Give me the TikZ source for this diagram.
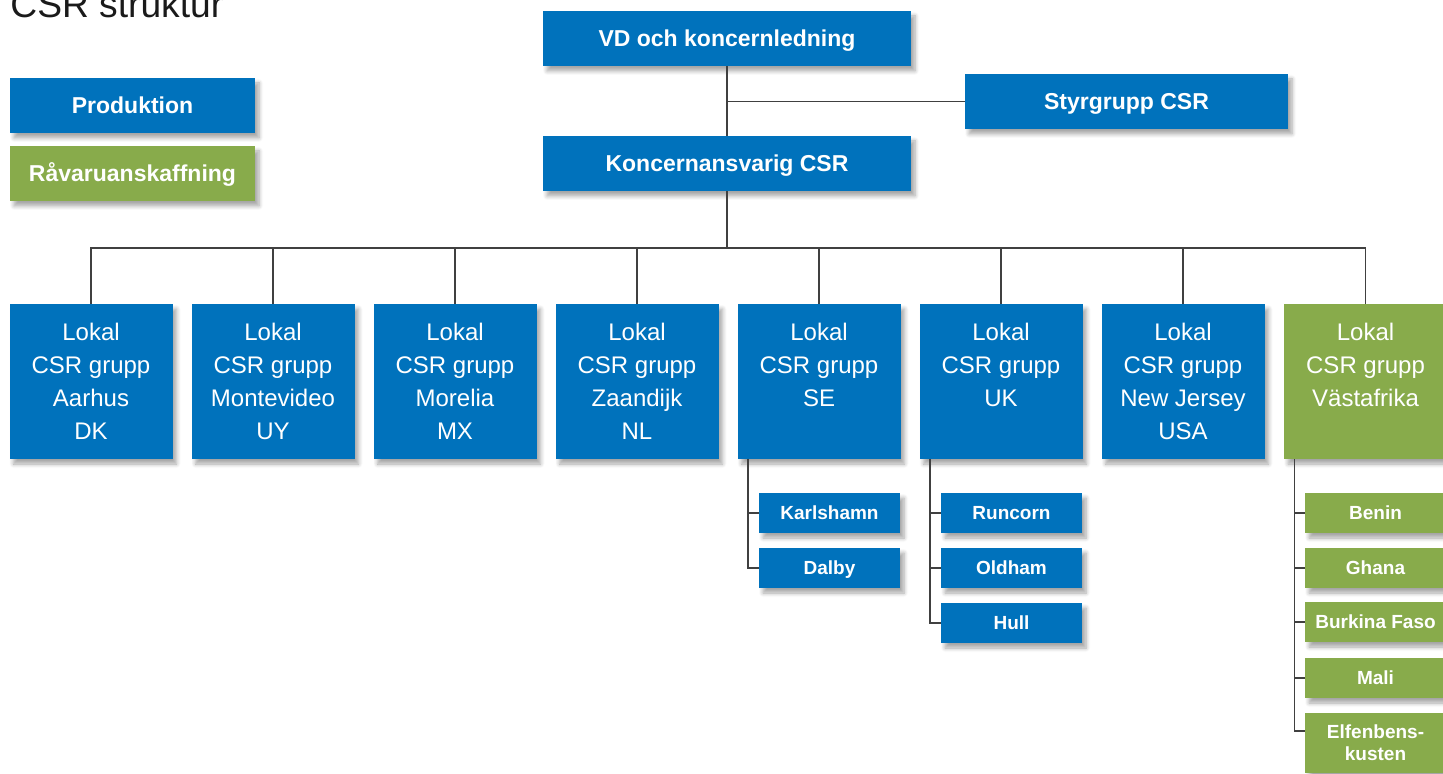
\documentclass[tikz,border=0pt]{standalone}
\usepackage{fontspec}
\setmainfont{Liberation Sans}
\usetikzlibrary{shadows.blur,calc}
\definecolor{cblue}{HTML}{0072BC}
\definecolor{cgreen}{HTML}{88AB4B}
\definecolor{cline}{HTML}{404040}
\definecolor{ctitle}{HTML}{1A1A1A}
\tikzset{
 box/.style={fill=cblue, text=white, inner sep=0pt, align=center,
   blur shadow={shadow xshift=2pt,shadow yshift=-2.5pt,shadow blur steps=6,shadow opacity=35,shadow blur radius=2pt}},
 gbox/.style={box, fill=cgreen},
 big/.style={minimum height=27.5pt, text height=8.2pt, text depth=0pt, font=\bfseries\fontsize{11.5}{13}\selectfont},
 lokal/.style={minimum width=81.5pt, minimum height=77.5pt, font=\fontsize{12}{16.5}\selectfont},
 small/.style={minimum width=70.5pt, minimum height=20pt, text height=6.8pt, text depth=0pt, font=\bfseries\fontsize{9.5}{11}\selectfont},
 conn/.style={draw=cline, line width=0.75pt},
}
\begin{document}
\begin{tikzpicture}[x=0.5pt,y=-0.5pt]
\useasboundingbox (0,0) rectangle (1443,774);
\node[anchor=base west, text=ctitle, inner sep=0pt, font=\fontsize{18.6}{20}\selectfont] (title) at (10,18) {CSR struktur};

\node[box,big,minimum width=122.5pt] (prod) at (132.5,105.5) {Produktion};
\node[gbox,big,minimum width=122.5pt] (rav) at (132.5,173.5) {Råvaruanskaffning};

\node[box,big,minimum width=184pt] (vd) at (727,38.5) {VD och koncernledning};
\node[box,big,minimum width=161.5pt] (styr) at (1126.5,101.5) {Styrgrupp CSR};
\node[box,big,minimum width=184pt] (kon) at (727,163.5) {Koncernansvarig CSR};

\node[box,lokal] (l1) at (91,381.5) {Lokal\\CSR grupp\\Aarhus\\DK};
\node[box,lokal] (l2) at (273,381.5) {Lokal\\CSR grupp\\Montevideo\\UY};
\node[box,lokal] (l3) at (455,381.5) {Lokal\\CSR grupp\\Morelia\\MX};
\node[box,lokal] (l4) at (637,381.5) {Lokal\\CSR grupp\\Zaandijk\\NL};
\node[box,lokal] (l5) at (819,381.5) {Lokal\\CSR grupp\\SE\\\phantom{X}};
\node[box,lokal] (l6) at (1001,381.5) {Lokal\\CSR grupp\\UK\\\phantom{X}};
\node[box,lokal] (l7) at (1183,381.5) {Lokal\\CSR grupp\\New Jersey\\USA};
\node[gbox,lokal] (l8) at (1365.5,381.5) {Lokal\\CSR grupp\\Västafrika\\\phantom{X}};

\node[box,small] (karl) at (829.5,513) {Karlshamn};
\node[box,small] (dalby) at (829.5,568) {Dalby};
\node[box,small] (run) at (1011.5,513) {Runcorn};
\node[box,small] (old) at (1011.5,568) {Oldham};
\node[box,small] (hull) at (1011.5,623) {Hull};
\node[gbox,small] (benin) at (1375.5,513) {Benin};
\node[gbox,small] (ghana) at (1375.5,568) {Ghana};
\node[gbox,small] (burk) at (1375.5,622) {Burkina Faso};
\node[gbox,small] (mali) at (1375.5,678) {Mali};
\node[gbox,small,minimum height=30pt,text height=,text depth=] (elf) at (1375.5,743) {Elfenbens-\\kusten};

% connectors
\coordinate (bus) at (727,248);
\draw[conn] (vd) -- (kon);
\draw[conn] (vd.south |- styr.west) -- (styr.west);
\draw[conn] (kon) -- (bus);
\draw[conn] (l1.north) -- (l1.north |- bus) -- (l8.north |- bus) -- (l8.north);
\foreach \n in {l2,l3,l4,l5,l6,l7}{\draw[conn] (\n.north) -- (\n.north |- bus);}

\coordinate (tse) at ([xshift=5.5pt]l5.south west);
\coordinate (tuk) at ([xshift=5.5pt]l6.south west);
\coordinate (tva) at ([xshift=5.5pt]l8.south west);
\draw[conn] (tse) |- (karl.west);
\draw[conn] (tse) |- (dalby.west);
\draw[conn] (tuk) |- (run.west);
\draw[conn] (tuk) |- (old.west);
\draw[conn] (tuk) |- (hull.west);
\draw[conn] (tva) |- (benin.west);
\draw[conn] (tva) |- (ghana.west);
\draw[conn] (tva) |- (burk.west);
\draw[conn] (tva) |- (mali.west);
\draw[conn] (tva) |- ([yshift=6pt]elf.west);
\end{tikzpicture}
\end{document}
